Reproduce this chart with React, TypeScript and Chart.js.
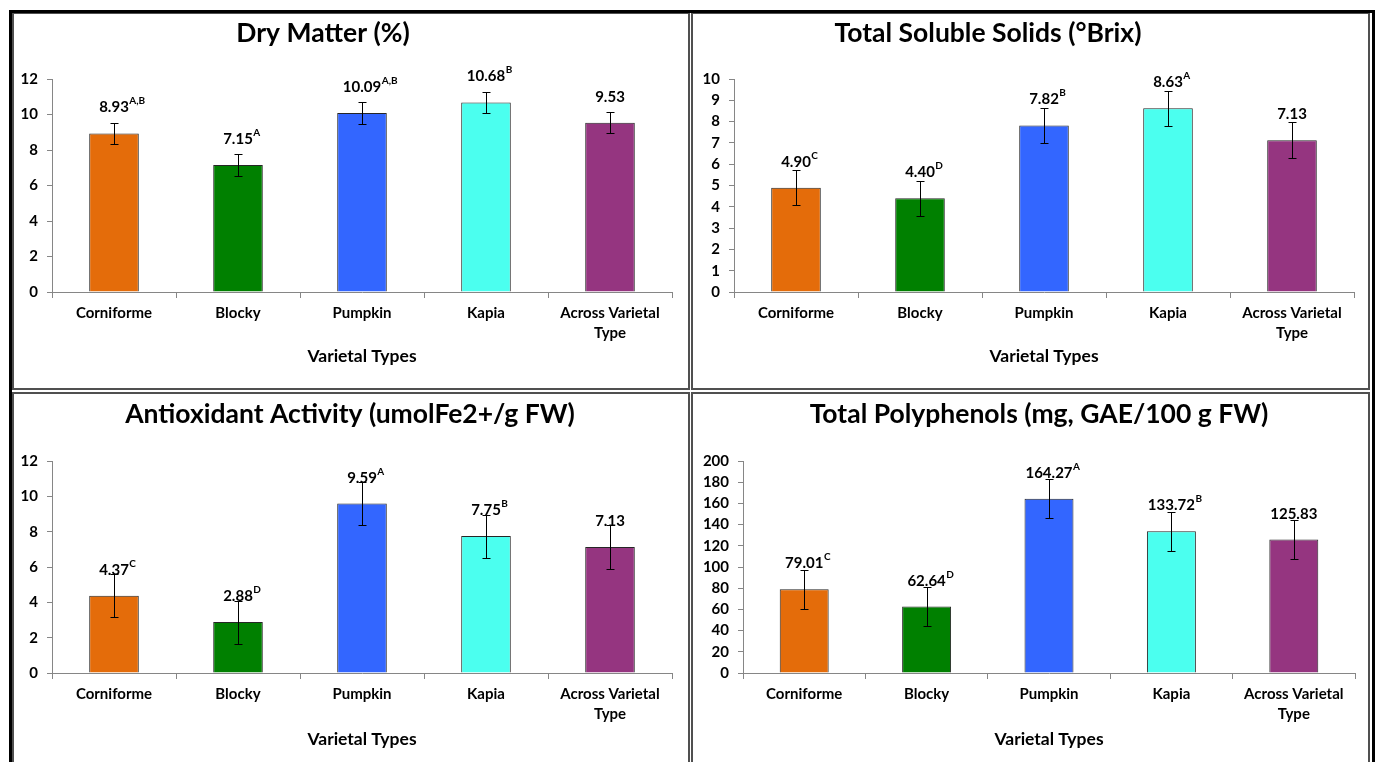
import React, { useEffect, useRef } from "react";
import { Chart, registerables } from "chart.js";

Chart.register(...registerables);

// ---------- data ----------
const categories: string[][] = [["Corniforme"], ["Blocky"], ["Pumpkin"], ["Kapia"], ["Across Varietal", "Type"]];
const barColors = ["#E46C0A", "#008000", "#3366FF", "#4BFFEF", "#953580"];
const xAxisTitle = "Varietal Types";

const dryMatter = [8.93, 7.15, 10.09, 10.68, 9.53];
const dryMatterErr = [0.6, 0.6, 0.6, 0.6, 0.6];
const dryMatterLetters = ["A,B", "A", "A,B", "B", ""];

const solubleSolids = [4.9, 4.4, 7.82, 8.63, 7.13];
const solubleSolidsErr = [0.83, 0.83, 0.83, 0.83, 0.83];
const solubleSolidsLetters = ["C", "D", "B", "A", ""];

const antioxidant = [4.37, 2.88, 9.59, 7.75, 7.13];
const antioxidantErr = [1.22, 1.22, 1.22, 1.22, 1.22];
const antioxidantLetters = ["C", "D", "A", "B", ""];

const polyphenols = [79.01, 62.64, 164.27, 133.72, 125.83];
const polyphenolsErr = [18.5, 18.5, 18.5, 18.5, 18.5];
const polyphenolsLetters = ["C", "D", "A", "B", ""];

// ---------- layout ----------
const FONT = "Lato, 'Open Sans', 'DejaVu Sans', sans-serif";
const AXIS_GRAY = "#868686";

type Spec = {
  title: string;
  titleX: number;
  titleBase: number;
  values: number[];
  errors: number[];
  letters: string[];
  max: number;
  step: number;
  box: { x: number; y: number; w: number; h: number };
  area: { l: number; r: number; t: number; b: number };
};

const specs: Spec[] = [
  {
    title: "Dry Matter (%)", titleX: 323, titleBase: 42,
    values: dryMatter, errors: dryMatterErr, letters: dryMatterLetters, max: 12, step: 2,
    box: { x: 14, y: 14, w: 674, h: 374 }, area: { l: 52, r: 672, t: 79, b: 292 },
  },
  {
    title: "Total Soluble Solids (°Brix)", titleX: 988, titleBase: 42,
    values: solubleSolids, errors: solubleSolidsErr, letters: solubleSolidsLetters, max: 10, step: 1,
    box: { x: 693, y: 14, w: 675, h: 374 }, area: { l: 734, r: 1354, t: 79, b: 292 },
  },
  {
    title: "Antioxidant Activity (umolFe2+/g FW)", titleX: 350, titleBase: 423,
    values: antioxidant, errors: antioxidantErr, letters: antioxidantLetters, max: 12, step: 2,
    box: { x: 14, y: 394, w: 674, h: 377 }, area: { l: 52, r: 672, t: 461, b: 673 },
  },
  {
    title: "Total Polyphenols (mg, GAE/100 g FW)", titleX: 1039, titleBase: 423,
    values: polyphenols, errors: polyphenolsErr, letters: polyphenolsLetters, max: 200, step: 20,
    box: { x: 693, y: 394, w: 675, h: 377 }, area: { l: 743, r: 1355, t: 461, b: 673 },
  },
];

function makeOverlay(spec: Spec) {
  return {
    id: "overlay",
    afterDatasetsDraw(chart: any) {
      const ctx: CanvasRenderingContext2D = chart.ctx;
      const meta = chart.getDatasetMeta(0);
      const yScale = chart.scales.y;
      ctx.save();
      // title
      ctx.fillStyle = "#000";
      ctx.font = `bold 26.5px ${FONT}`;
      ctx.textAlign = "center";
      ctx.textBaseline = "alphabetic";
      ctx.fillText(spec.title, spec.titleX - spec.box.x, spec.titleBase - spec.box.y);
      // value labels
      meta.data.forEach((bar: any, i: number) => {
        const txt = spec.values[i].toFixed(2);
        const base = bar.y - 21;
        ctx.font = `bold 15px ${FONT}`;
        ctx.textAlign = "center";
        ctx.fillText(txt, bar.x, base);
        const w = ctx.measureText(txt).width;
        if (spec.letters[i]) {
          ctx.font = `bold 10px ${FONT}`;
          ctx.textAlign = "left";
          ctx.fillText(spec.letters[i], bar.x + w / 2 + 0.5, base - 8);
        }
      });
      // error bars
      ctx.strokeStyle = "#000";
      ctx.lineWidth = 1;
      meta.data.forEach((bar: any, i: number) => {
        const x = Math.round(bar.x) + 0.5;
        const yt = Math.round(yScale.getPixelForValue(spec.values[i] + spec.errors[i])) + 0.5;
        const yb = Math.round(yScale.getPixelForValue(spec.values[i] - spec.errors[i])) + 0.5;
        ctx.beginPath();
        ctx.moveTo(x, yt);
        ctx.lineTo(x, yb);
        ctx.moveTo(x - 4, yt);
        ctx.lineTo(x + 4, yt);
        ctx.moveTo(x - 4, yb);
        ctx.lineTo(x + 4, yb);
        ctx.stroke();
      });
      ctx.restore();
    },
  };
}

function Panel({ spec }: { spec: Spec }) {
  const ref = useRef<HTMLCanvasElement>(null);
  useEffect(() => {
    const { box, area } = spec;
    const chart = new Chart(ref.current as HTMLCanvasElement, {
      type: "bar",
      data: {
        labels: categories,
        datasets: [
          {
            data: spec.values,
            backgroundColor: barColors,
            borderColor: "#262626",
            borderWidth: 1,
            barPercentage: 0.4,
            categoryPercentage: 1,
          },
        ],
      },
      options: {
        responsive: false,
        animation: false,
        devicePixelRatio: 1,
        layout: { padding: { left: 0, top: area.t - box.y, right: box.x + box.w - area.r, bottom: 0 } },
        plugins: { legend: { display: false }, tooltip: { enabled: false }, title: { display: false } },
        scales: {
          x: {
            offset: true,
            grid: { display: true, drawOnChartArea: false, tickLength: 6, color: AXIS_GRAY, offset: true },
            border: { display: true, color: AXIS_GRAY, width: 1 },
            ticks: {
              color: "#000",
              font: { family: FONT, size: 15, weight: "bold", lineHeight: 1.33 },
              padding: 5,
              maxRotation: 0,
              autoSkip: false,
            },
            title: {
              display: true,
              text: xAxisTitle,
              color: "#000",
              font: { family: FONT, size: 17.5, weight: "bold" },
              padding: { top: 0, bottom: 21 },
            },
            afterFit: (s: any) => {
              s.height = box.y + box.h - area.b;
            },
          },
          y: {
            min: 0,
            max: spec.max,
            ticks: {
              stepSize: spec.step,
              color: "#000",
              font: { family: FONT, size: 15, weight: "bold" },
              padding: 9,
            },
            grid: { display: true, drawOnChartArea: false, tickLength: 5, color: AXIS_GRAY },
            border: { display: true, color: AXIS_GRAY, width: 1 },
            afterFit: (s: any) => {
              s.width = area.l - box.x;
            },
          },
        },
      } as any,
      plugins: [makeOverlay(spec)],
    });
    return () => chart.destroy();
  }, []);
  const { box } = spec;
  return (
    <canvas
      ref={ref}
      width={box.w}
      height={box.h}
      style={{ position: "absolute", left: box.x, top: box.y, width: box.w, height: box.h, display: "block" }}
    />
  );
}

const panelBox = (left: number, top: number, width: number, height: number): React.CSSProperties => ({
  position: "absolute",
  left,
  top,
  width,
  height,
  boxSizing: "border-box",
  border: "2px solid #505050",
});

export default function App() {
  return (
    <div
      style={{
        position: "fixed",
        left: 0,
        top: 0,
        width: 1378,
        height: 762,
        background: "#fff",
        overflow: "hidden",
      }}
    >
      <div style={panelBox(12, 12, 678, 378)} />
      <div style={panelBox(691, 12, 679, 378)} />
      <div style={panelBox(12, 392, 678, 400)} />
      <div style={panelBox(691, 392, 679, 400)} />
      {specs.map((s, i) => (
        <Panel key={i} spec={s} />
      ))}
      <div
        style={{
          position: "absolute",
          left: 9,
          top: 10,
          width: 1366,
          height: 800,
          boxSizing: "border-box",
          border: "3px solid #000",
          borderBottom: "none",
          pointerEvents: "none",
        }}
      />
    </div>
  );
}
